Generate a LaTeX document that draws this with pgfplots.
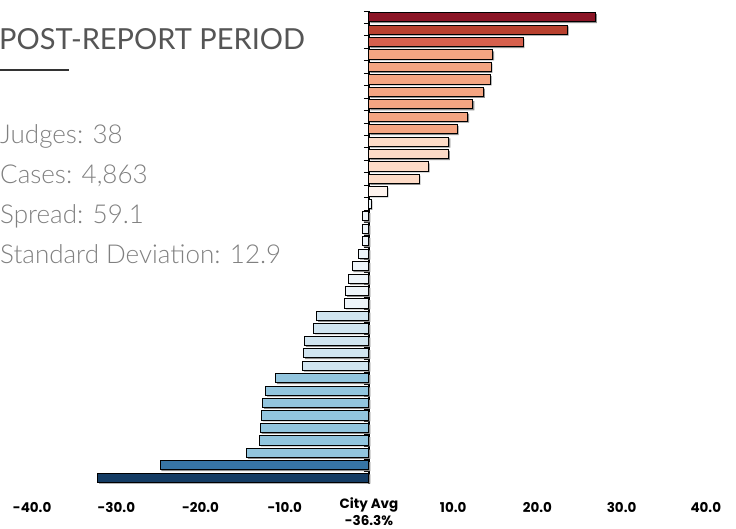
\documentclass[border=0pt]{standalone}
\usepackage{pgfplots}
\pgfplotsset{compat=1.18}
\usepackage{pgfplotstable}
\usepackage{fontspec}
\setmainfont{Lato}
\newfontfamily\latolight{Lato Light}
\newfontfamily\tickfont{Poppins}

\definecolor{c1}{HTML}{8B1526}
\definecolor{c2}{HTML}{B8402E}
\definecolor{c3}{HTML}{D6604D}
\definecolor{c4}{HTML}{F4A582}
\definecolor{c5}{HTML}{FDDBC7}
\definecolor{c6}{HTML}{FFF4EE}
\definecolor{c7}{HTML}{EEF5FA}
\definecolor{c8}{HTML}{D1E5F0}
\definecolor{c9}{HTML}{92C5DE}
\definecolor{c10}{HTML}{3775A5}
\definecolor{c11}{HTML}{143C64}
\definecolor{titlegray}{HTML}{555555}
\definecolor{statgray}{HTML}{808080}
\definecolor{rulegray}{HTML}{333333}

\pgfplotstableread{
rank value grp
1 26.9 1
2 23.55 2
3 18.3 3
4 14.7 4
5 14.5 4
6 14.4 4
7 13.6 4
8 12.35 4
9 11.75 4
10 10.5 4
11 9.5 5
12 9.45 5
13 7.05 5
14 5.95 5
15 2.15 6
16 0.25 7
17 -0.75 7
18 -0.75 7
19 -0.8 7
20 -1.2 7
21 -2.0 7
22 -2.4 7
23 -2.75 7
24 -2.9 7
25 -6.2 8
26 -6.55 8
27 -7.65 8
28 -7.75 8
29 -7.9 8
30 -11.1 9
31 -12.25 9
32 -12.6 9
33 -12.75 9
34 -12.9 9
35 -13.0 9
36 -14.55 9
37 -24.8 10
38 -32.2 11
}\judges

\begin{document}
\begin{tikzpicture}[x=1pt,y=1pt]
\useasboundingbox (0,-45) rectangle (736,484);
\begin{axis}[
  at={(0,0)}, anchor=south west,
  scale only axis, width=736pt, height=473pt,
  xmin=-43.82, xmax=43.59, ymin=0.5, ymax=38.5,
  y dir=reverse,
  xbar, bar shift=0pt, bar width=9.2pt,
  axis x line=bottom, x axis line style={draw=none},
  axis y line=center, y axis line style={-, black, line width=1.1pt},
  xtick={-40,-30,-20,-10,10,20,30,40},
  xticklabels={-40.0,-30.0,-20.0,-10.0,10.0,20.0,30.0,40.0},
  major x tick style={draw=none},
  xticklabel style={font=\tickfont\bfseries\fontsize{13.5}{18}\selectfont, anchor=base, inner sep=0pt, yshift=-23pt},
  extra x ticks={0},
  extra x tick labels={City Avg\\-36.3\%},
  extra x tick style={xticklabel style={align=center, font=\tickfont\bfseries\fontsize{13.5}{17}\selectfont, yshift=-18.6pt}, major tick length=0pt},
  ytick={0.5,1.5,...,38.5}, yticklabels={},
  tick align=outside, major tick length=5pt,
  ytick style={black, line width=0.9pt},
  every axis plot/.append style={draw=black, line width=1pt},
]
\addplot[fill=black!45, draw=none, xshift=1.3pt, yshift=-1.3pt] table[x=value,y=rank]{\judges};
\addplot[fill=c1] table[x=value,y=rank, restrict expr to domain={\thisrow{grp}}{1:1}]{\judges};
\addplot[fill=c2] table[x=value,y=rank, restrict expr to domain={\thisrow{grp}}{2:2}]{\judges};
\addplot[fill=c3] table[x=value,y=rank, restrict expr to domain={\thisrow{grp}}{3:3}]{\judges};
\addplot[fill=c4] table[x=value,y=rank, restrict expr to domain={\thisrow{grp}}{4:4}]{\judges};
\addplot[fill=c5] table[x=value,y=rank, restrict expr to domain={\thisrow{grp}}{5:5}]{\judges};
\addplot[fill=c6] table[x=value,y=rank, restrict expr to domain={\thisrow{grp}}{6:6}]{\judges};
\addplot[fill=c7] table[x=value,y=rank, restrict expr to domain={\thisrow{grp}}{7:7}]{\judges};
\addplot[fill=c8] table[x=value,y=rank, restrict expr to domain={\thisrow{grp}}{8:8}]{\judges};
\addplot[fill=c9] table[x=value,y=rank, restrict expr to domain={\thisrow{grp}}{9:9}]{\judges};
\addplot[fill=c10] table[x=value,y=rank, restrict expr to domain={\thisrow{grp}}{10:10}]{\judges};
\addplot[fill=c11] table[x=value,y=rank, restrict expr to domain={\thisrow{grp}}{11:11}]{\judges};
\end{axis}
\node[anchor=base west, inner sep=0pt, font=\fontsize{29}{31}\selectfont, text=titlegray] at (-1,434) {POST-REPORT PERIOD};
\draw[line width=2.5pt, rulegray] (0,414) -- (69,414);
\begin{scope}[every node/.style={anchor=base west, inner sep=0pt, font=\latolight\fontsize{26}{28}\selectfont, text=statgray}]
\node at (0,340) {Judges: 38};
\node at (0,300) {Cases: 4,863};
\node at (0,260) {Spread: 59.1};
\node at (0,220) {Standard Deviation: 12.9};
\end{scope}
\end{tikzpicture}
\end{document}
